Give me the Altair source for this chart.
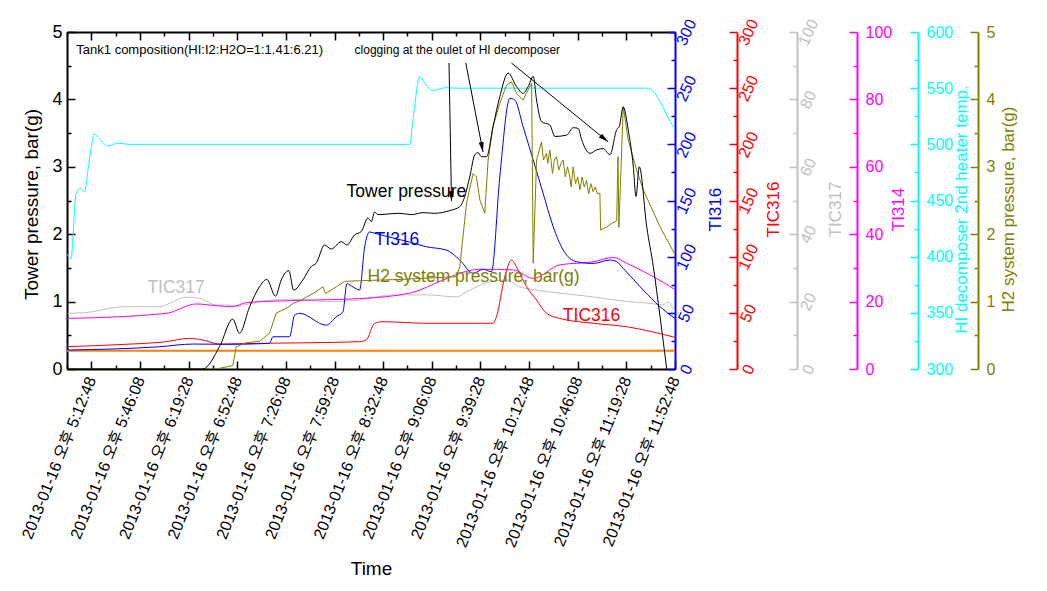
import altair as alt
import pandas as pd

FONT = "Liberation Sans"
W, H = 608, 337

# ---- time axis -------------------------------------------------------------
T0 = "16:56:08"          # left edge of the time axis
T1 = "23:52:48"          # right edge of the time axis
x_label_times = ["17:12:48", "17:46:08", "18:19:28", "18:52:48", "19:26:08",
                 "19:59:28", "20:32:48", "21:06:08", "21:39:28", "22:12:48",
                 "22:46:08", "23:19:28", "23:52:48"]
x_tick_times = ["16:56:08", "17:12:48", "17:29:28", "17:46:08", "18:02:48",
                "18:19:28", "18:36:08", "18:52:48", "19:09:28", "19:26:08",
                "19:42:48", "19:59:28", "20:16:08", "20:32:48", "20:49:28",
                "21:06:08", "21:22:48", "21:39:28", "21:56:08", "22:12:48",
                "22:29:28", "22:46:08", "23:02:48", "23:19:28", "23:36:08",
                "23:52:48"]

# ---- series (elapsed minutes after 16:56:08, value) -------------------------
tower_min = [0, 93.0, 104.5, 113.6, 118.2, 125.1, 131.9, 136.9, 142.9, 146.8,
             152.0, 155.3, 161.6, 167.4, 170.8, 176.5, 181.1, 188.0, 191.8, 197.1,
             201.7, 206.2, 208.6, 210.8, 213.1, 220, 228.0, 236, 244.0, 252,
             262.3, 269.2, 272.6, 276.0, 279.5, 281.7, 284.0, 287.5, 292.0, 296.6,
             302.3, 308.1, 312.6, 316.0, 319.5, 321.8, 325.2, 330.9, 334.4, 342.4,
             346.9, 350.3, 352.7, 358.4, 362.9, 367.5, 372.1, 376.7, 378.5, 381.2,
             384.6, 388.1, 389.9, 392.2, 397.3, 401.8, 406.4, 411.0]
tower_val = [0, 0, 0.33, 0.74, 0.53, 0.92, 1.22, 1.33, 1.08, 1.32,
             1.46, 1.17, 1.32, 1.52, 1.57, 1.84, 1.78, 1.89, 1.84, 1.99,
             2.04, 2.24, 2.19, 2.33, 2.29, 2.30, 2.31, 2.29, 2.32, 2.31,
             2.35, 2.41, 2.56, 2.85, 3.18, 3.21, 3.15, 3.15, 3.6, 4.04,
             4.39, 4.19, 4.09, 4.19, 4.34, 3.99, 3.67, 3.62, 3.45, 3.47,
             3.58, 3.57, 3.40, 3.2, 3.25, 3.27, 3.18, 3.55, 3.6, 3.89,
             3.55, 3.0, 2.56, 3.0, 2.11, 1.52, 0.78, 0]

h2_min = [0, 102.2, 113.6, 116.0, 122.8, 131.9, 138.8, 143.4, 150.3, 154.8,
          159.4, 168.5, 175.4, 177.2, 184.6, 190.3, 200.5, 230, 266.9, 269.2,
          273.8, 278.3, 280.6, 282.9, 286.3, 288.6, 292.0, 296.6, 301.2, 304.6,
          308.1, 312.6, 316.0, 318.4, 319.5, 321.8, 325.2, 326.5, 328.6, 329.5,
          330.9, 332.7, 334.0, 335.5, 337.0, 338.5, 340.0, 341.5, 343.0, 344.6,
          345.5, 346.9, 348.5, 350.0, 351.5, 353.0, 354.5, 356.1, 357.5, 359.0,
          360.6, 362.0, 363.5, 365.2, 365.7, 369.8, 373.3, 376.7, 377.6, 378.2,
          381.2, 384.6, 390.4, 394.9, 406.4, 416.6]
h2_val = [0, 0, 0.05, 0.33, 0.39, 0.41, 0.53, 0.83, 0.9, 0.97,
          1.01, 1.12, 1.22, 1.12, 1.22, 1.3, 1.31, 1.33, 1.37, 1.52,
          2.46, 2.9, 2.85, 2.51, 2.31, 3.1, 3.6, 3.94, 4.21, 4.26,
          4.09, 3.99, 4.14, 4.24, 1.57, 3.1, 3.37, 3.1, 3.2, 3.05,
          3.25, 2.9, 3.1, 3.15, 2.95, 3.05, 3.1, 2.85, 3.0, 2.85,
          2.7, 3.0, 2.75, 2.85, 2.66, 2.85, 2.7, 2.8, 2.6, 2.75,
          2.63, 2.7, 2.6, 2.61, 2.06, 2.11, 2.16, 2.2, 3.15, 2.1,
          3.89, 3.4, 2.95, 2.66, 2.11, 1.7]

ti316_min = [0.4, 63.3, 86.2, 109.1, 138.8, 141.1, 152.5, 156.0, 159.4, 177.7,
             184.6, 189.1, 191.8, 196.0, 200.5, 204.0, 207.4, 210.8, 234.8, 246.3,
             260.0, 269.2, 278.3, 285.2, 290.9, 296.6, 303.5, 306.9, 312.6, 319.5,
             326.3, 333.2, 340.0, 349.2, 360.6, 372.1, 376.7, 381.2, 394.9, 406.4,
             416.6]
ti316_val = [16.9, 19.8, 22.2, 22.0, 22.8, 28.7, 28.7, 48, 49.6, 39,
             46.5, 51, 76, 73, 70.3, 108.9, 122, 120.8, 113, 108.8,
             105.9, 97, 85.2, 88.7, 86.6, 171, 241, 239.4, 215.6, 186,
             156.4, 126.7, 106, 95.5, 94, 97, 95.5, 89.6, 70.3, 55.4,
             45]

tic316_min = [0.4, 40.5, 67.9, 83.9, 93.0, 104.5, 131.9, 200.5, 205.1, 210.8,
              216.5, 246.3, 292.0, 294.3, 300.0, 304.6, 309.2, 314.9, 321.8, 328.6,
              337.7, 360.6, 383.5, 416.6]
tic316_val = [19.9, 22, 24.3, 27.3, 25.8, 22.2, 22.8, 24.3, 25.8, 40.7,
              42.1, 40.7, 40.7, 46.5, 82, 97, 88, 73.3, 61.4, 49.6,
              45, 40.7, 37.6, 28.2]

tic317_min = [0.4, 17.6, 29.0, 40.5, 63.3, 70.2, 81.6, 90.8, 102.2, 118.2,
              131.9, 154.8, 177.7, 200.5, 223.4, 246.3, 266.9, 273.8, 287.5, 301.2,
              310.3, 321.8, 337.7, 360.6, 383.5, 399.5, 408.4, 411.8, 416.6]
tic317_val = [16.5, 17, 18, 18.5, 18.5, 19.5, 21.3, 21, 19, 18.9,
              20, 20.7, 20, 20.5, 22, 22, 21.4, 22.9, 25.6, 26.4,
              24.4, 23.4, 22.5, 21.4, 20, 19.5, 19.0, 19.8, 17]

ti314_min = [0.4, 67.9, 88.5, 102.2, 113.6, 122.8, 154.8, 200.5, 234.8, 257.7,
             269.2, 282.9, 305.7, 319.5, 337.7, 360.6, 374.3, 383.5, 401.8, 416.6]
ti314_val = [15.0, 16.5, 19.3, 18.8, 18.5, 19.7, 20.3, 20.9, 22.5, 26.4,
             28.4, 29.6, 29.4, 26.9, 30.9, 31.8, 33.1, 31.4, 27.4, 23.6]

heater_min = [0.3, 2.7, 6.2, 8.9, 11.9, 15.3, 18.7, 22.1, 27.9, 34.7,
              42.7, 234.9, 236.9, 241.8, 245.9, 250.8, 260.0, 265.7, 398.1, 415.5,
              416.6]
heater_val = [402, 398, 456, 461, 458, 486, 509, 505, 498.5, 501,
              500, 500, 520, 560, 553, 548, 550.5, 550, 550, 516,
              514]

orange_min = [0, 416.7]
orange_val = [0.27, 0.27]

# ---- annotations --------------------------------------------------------------
series_label_text = ["Tower pressure", "TI316", "H2 system pressure, bar(g)", "TIC317", "TIC316"]
series_label_min = [191.6, 210.8, 206.0, 55.1, 339.8]
series_label_val = [2.63, 1.91, 1.37, 1.20, 0.78]
series_label_color = ["#000000", "#0000ff", "#808000", "#c0c0c0", "#ff0000"]

note1_text, note1_min, note1_val = ["Tank1 composition(HI:I2:H2O=1:1.41:6.21)"], [6.4], [4.74]
note2_text, note2_min, note2_val = ["clogging at the oulet of HI decomposer"], [197.1], [4.74]

arrow_start_min = [261.8, 273.3, 304.6]
arrow_start_val = [4.54, 4.54, 4.54]
arrow_end_min = [263.5, 285.1, 370.9]
arrow_end_val = [2.49, 3.22, 3.37]
arrow_angle = [179, 169, 129]

# ---- axis tick values ---------------------------------------------------------
ticks_bar = [0, 0.5, 1, 1.5, 2, 2.5, 3, 3.5, 4, 4.5, 5]
labels_bar = [0, 1, 2, 3, 4, 5]
ticks_300 = [0, 25, 50, 75, 100, 125, 150, 175, 200, 225, 250, 275, 300]
labels_300 = [0, 50, 100, 150, 200, 250, 300]
ticks_100 = [0, 10, 20, 30, 40, 50, 60, 70, 80, 90, 100]
labels_100 = [0, 20, 40, 60, 80, 100]
ticks_600 = [300, 325, 350, 375, 400, 425, 450, 475, 500, 525, 550, 575, 600]
labels_600 = [300, 350, 400, 450, 500, 550, 600]

# ---- helpers ------------------------------------------------------------------
BASE = pd.Timestamp("2013-01-16 " + T0)


def to_iso(mins):
    return [(BASE + pd.Timedelta(minutes=m)).strftime("%Y-%m-%dT%H:%M:%S") for m in mins]


def dt(hms):
    h, m, s = (int(p) for p in hms.split(":"))
    return alt.DateTime(year=2013, month=1, date=16, hours=h, minutes=m, seconds=s)


X_DOMAIN = [dt(T0), dt(T1)]


def xenc(field="t", axis=None):
    return alt.X(f"{field}:T", scale=alt.Scale(domain=X_DOMAIN), axis=axis)


def yscale(dom):
    return alt.Scale(domain=dom, nice=False, zero=False)


def frame(mins, vals):
    return pd.DataFrame({"t": to_iso(mins), "v": vals})


def label_axis_right(color, offset, values, title, title_x, rotated):
    kw = dict(orient="right", offset=offset, values=values, ticks=False, tickSize=0,
              domain=True, domainColor=color, domainWidth=2, labelColor=color,
              labelFontSize=16, labelOverlap=False, labelFlush=False,
              title=title, titleColor=color, titleFontSize=17, titleAngle=270,
              titleAlign="center", titleBaseline="middle", titleX=title_x, titleY=177,
              grid=False)
    if rotated:
        kw.update(labelAngle=295, labelAlign="center", labelBaseline="middle", labelPadding=11)
    else:
        kw.update(labelAlign="left", labelBaseline="middle", labelPadding=8)
    return alt.Axis(**kw)


def tick_axis(orient, offset, values, color, test, major=8, minor=4, domain=False):
    kw = dict(orient=orient, offset=offset, values=values, labels=False, ticks=True,
              tickColor=color, tickWidth=1.5,
              tickSize={"condition": {"test": test, "value": major}, "value": minor},
              domain=domain, title=None, grid=False)
    if domain:
        kw.update(domainColor=color, domainWidth=2)
    return alt.Axis(**kw)


def series(mins, vals, color, dom, axis=None, width=1.0, interp="linear"):
    return alt.Chart(frame(mins, vals)).mark_line(
        color=color, strokeWidth=width, clip=True, interpolate=interp).encode(
        x=xenc(), y=alt.Y("v:Q", scale=yscale(dom), axis=axis))


def y_ticks_layer(dom, axis):
    return alt.Chart(pd.DataFrame({"v": dom})).mark_point(opacity=0).encode(
        y=alt.Y("v:Q", scale=yscale(dom), axis=axis))


def x_axis_layer(axis):
    return alt.Chart(pd.DataFrame({"t": to_iso([0, 416.6])})).mark_point(opacity=0).encode(
        x=xenc(axis=axis))


BLUE, RED, GRAY, MAG, CYAN, OLIVE, ORANGE = ("#0000ff", "#ff0000", "#c0c0c0", "#ff00ff",
                                             "#00ffff", "#808000", "#ff8000")

left_axis = alt.Axis(orient="left", values=labels_bar, ticks=False, tickSize=0, domain=True,
                     domainColor="black", domainWidth=2, labelColor="black", labelFontSize=18,
                     labelPadding=5, labelOverlap=False, title="Tower pressure, bar(g)",
                     titleColor="black", titleFontSize=19, titleAngle=270, titleAlign="center",
                     titleBaseline="middle", titleX=-36, titleY=172, grid=False)

OFF = {"blue": 0, "red": 62, "gray": 122, "mag": 182, "cyan": 243, "olive": 303}

layers = [
    series(orange_min, orange_val, ORANGE, [0, 5], width=2),
    series(heater_min, heater_val, CYAN, [300, 600],
           label_axis_right(CYAN, OFF["cyan"], labels_600, "HI decomposer 2nd heater temp.", 43, False),
           interp="monotone"),
    series(tic317_min, tic317_val, GRAY, [0, 100],
           label_axis_right(GRAY, OFF["gray"], labels_100, "TIC317", 38, True), interp="monotone"),
    series(ti314_min, ti314_val, MAG, [0, 100],
           label_axis_right(MAG, OFF["mag"], labels_100, "TI314", 41, False), interp="monotone"),
    series(tic316_min, tic316_val, RED, [0, 300],
           label_axis_right(RED, OFF["red"], labels_300, "TIC316", 36, True), interp="monotone"),
    series(ti316_min, ti316_val, BLUE, [0, 300],
           label_axis_right(BLUE, OFF["blue"], labels_300, "TI316", 40, True), interp="monotone"),
    series(h2_min, h2_val, OLIVE, [0, 5],
           label_axis_right(OLIVE, OFF["olive"], labels_bar, "H2 system pressure, bar(g)", 30, False)),
    series(tower_min, tower_val, "black", [0, 5], left_axis, interp="monotone"),
    # inward tick marks
    y_ticks_layer([0, 5], tick_axis("right", -W, ticks_bar, "black", "datum.value % 1 == 0")),
    y_ticks_layer([0, 300], tick_axis("left", -(W + OFF["blue"]), ticks_300, BLUE, "datum.value % 50 == 0")),
    y_ticks_layer([0, 300], tick_axis("left", -(W + OFF["red"]), ticks_300, RED, "datum.value % 50 == 0")),
    y_ticks_layer([0, 100], tick_axis("left", -(W + OFF["gray"]), ticks_100, GRAY, "datum.value % 20 == 0")),
    y_ticks_layer([0, 100], tick_axis("left", -(W + OFF["mag"]), ticks_100, MAG, "datum.value % 20 == 0")),
    y_ticks_layer([300, 600], tick_axis("left", -(W + OFF["cyan"]), ticks_600, CYAN, "datum.value % 50 == 0")),
    y_ticks_layer([0, 5], tick_axis("left", -(W + OFF["olive"]), ticks_bar, OLIVE, "datum.value % 1 == 0")),
]

x_test = "round((time(datum.value) - time(datetime(2013, 0, 16, 16, 56, 8))) / 1000000) % 2 == 1"
x_ticks = [dt(s) for s in x_tick_times]

x_label_axis = alt.Axis(orient="bottom", values=[dt(s) for s in x_label_times],
                        format="%Y-%m-%d 오후 %-I:%M:%S", ticks=False, tickSize=0,
                        domain=True, domainColor="black", domainWidth=2,
                        labelAngle=292, labelAlign="right", labelBaseline="middle",
                        labelPadding=8, labelFontSize=16, labelOverlap=False, labelFlush=False,
                        labelLimit=400, labelColor="black",
                        labelFont=FONT + ", Noto Sans CJK KR",
                        title="Time", titleColor="black", titleFontSize=19,
                        titleX=W / 2, titleY=199, titleAlign="center", titleBaseline="middle",
                        grid=False)

layers += [
    x_axis_layer(x_label_axis),
    x_axis_layer(tick_axis("top", -H, x_ticks, "black", x_test)),
    x_axis_layer(tick_axis("bottom", -H, x_ticks, "black", x_test, domain=True)),
]

# text labels for the series
lab_df = pd.DataFrame({"t": to_iso(series_label_min), "v": series_label_val,
                       "text": series_label_text, "color": series_label_color})
layers.append(
    alt.Chart(lab_df).mark_text(align="left", baseline="middle", font=FONT, fontSize=17.5).encode(
        x=xenc(), y=alt.Y("v:Q", scale=yscale([0, 5]), axis=None),
        text="text:N", color=alt.Color("color:N", scale=None)))

for txt, mins, vals, fs in [(note1_text, note1_min, note1_val, 13),
                            (note2_text, note2_min, note2_val, 12)]:
    ndf = pd.DataFrame({"t": to_iso(mins), "v": vals, "text": txt})
    layers.append(
        alt.Chart(ndf).mark_text(align="left", baseline="middle", font=FONT, fontSize=fs,
                                 color="black").encode(
            x=xenc(), y=alt.Y("v:Q", scale=yscale([0, 5]), axis=None), text="text:N"))

arr_df = pd.DataFrame({"t": to_iso(arrow_start_min), "v": arrow_start_val,
                       "t2": to_iso(arrow_end_min), "v2": arrow_end_val, "a": arrow_angle})
layers.append(
    alt.Chart(arr_df).mark_rule(color="black", strokeWidth=1).encode(
        x=xenc(), x2="t2:T", y=alt.Y("v:Q", scale=yscale([0, 5]), axis=None), y2="v2:Q"))
layers.append(
    alt.Chart(arr_df).mark_point(shape="M0,0 L0.5,2 L-0.5,2 Z", filled=True, color="black",
                                 size=100, opacity=1).encode(
        x=xenc("t2"), y=alt.Y("v2:Q", scale=yscale([0, 5]), axis=None),
        angle=alt.Angle("a:Q", scale=None)))

chart = (
    alt.layer(*layers)
    .resolve_scale(y="independent")
    .resolve_axis(x="independent", y="independent")
    .properties(width=W, height=H,
                padding={"left": 59, "top": 24, "right": 360, "bottom": 210},
                autosize=alt.AutoSizeParams(type="none"))
    .configure_view(strokeWidth=0)
    .configure_axis(grid=False, labelFont=FONT, titleFont=FONT, titleFontWeight="normal")
)

chart.save("out.html", embed_options={"renderer": "svg", "actions": False})
